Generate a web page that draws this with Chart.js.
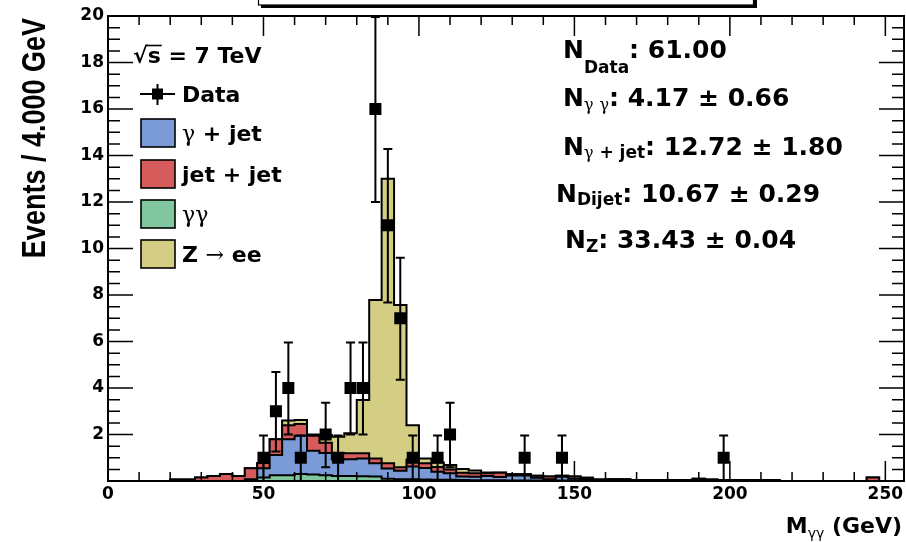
<!DOCTYPE html>
<html>
<head>
<meta charset="utf-8">
<script src="https://cdn.jsdelivr.net/npm/chart.js@4.4.0/dist/chart.umd.min.js"></script>
<style>
  html, body { margin: 0; padding: 0; background: #fff; }
  #wrap { width: 906px; height: 542px; }
</style>
</head>
<body>
<div id="wrap"><canvas id="c" width="906" height="542"></canvas></div>
<script>
// Diphoton invariant mass: stacked background templates and observed events, 4 GeV bins from 0 to 256 GeV
const binWidth = 4;
const binCount = 64;

// Per-bin contents, bin i covers [4i, 4i+4) GeV
const gammaGamma = [
  0, 0, 0, 0, 0, 0, 0, 0, 0, 0, 0, 0.02, 0.15, 0.25, 0.25, 0.30,
  0.28, 0.25, 0.22, 0.22, 0.20, 0.19, 0.10, 0.08, 0.08, 0.06, 0.05, 0.05, 0.04, 0.03, 0.03, 0.03,
  0.02, 0.02, 0.02, 0.02, 0.02, 0.02, 0.01, 0, 0, 0, 0, 0, 0, 0, 0, 0,
  0, 0, 0, 0, 0, 0, 0, 0, 0, 0, 0, 0, 0, 0, 0, 0
];
const gammaJet = [
  0, 0, 0, 0, 0, 0, 0, 0, 0, 0, 0, 0.05, 0.40, 0.87, 1.55, 1.65,
  1.02, 0.95, 0.70, 0.72, 0.77, 0.57, 0.44, 0.36, 0.54, 0.50, 0.35, 0.28, 0.15, 0.15, 0.18, 0.14,
  0.22, 0.22, 0.12, 0.06, 0.16, 0.08, 0.06, 0.03, 0.04, 0.04, 0.02, 0.02, 0.02, 0.02, 0.02, 0.05,
  0.03, 0.02, 0.02, 0.02, 0.02, 0.02, 0, 0, 0, 0, 0, 0, 0, 0, 0, 0
];
const jetJet = [
  0, 0, 0, 0, 0, 0.06, 0.06, 0.15, 0.22, 0.30, 0.22, 0.48, 0.22, 0.68, 0.60, 0.50,
  0.65, 0.45, 0.28, 0.25, 0.22, 0.21, 0.22, 0.15, 0.31, 0.20, 0.20, 0.17, 0.17, 0.15, 0.12, 0.18,
  0.05, 0.05, 0.09, 0.11, 0.05, 0.09, 0.07, 0.03, 0.03, 0.03, 0.02, 0.02, 0.02, 0.02, 0.02, 0.05,
  0.03, 0.02, 0.02, 0.02, 0.02, 0.02, 0, 0, 0, 0, 0, 0, 0, 0.15, 0, 0
];
const zee = [
  0, 0, 0, 0, 0, 0, 0, 0, 0, 0, 0, 0, 0, 0, 0.20, 0.17,
  0.05, 0.33, 0.70, 0.86, 2.29, 6.81, 12.24, 6.98, 1.47, 0.21, 0.20, 0.19, 0.16, 0.12, 0.04, 0.02,
  0, 0, 0, 0, 0, 0, 0, 0, 0, 0, 0, 0, 0, 0, 0, 0,
  0, 0, 0, 0, 0, 0, 0, 0, 0, 0, 0, 0, 0, 0, 0, 0
];

// Observed events: bin centre (GeV), count, statistical error
const dataMass  = [50, 54, 58, 62, 70, 74, 78, 82, 86, 90, 94, 98, 106, 110, 134, 146, 198];
const dataCount = [1, 3, 4, 1, 2, 1, 4, 4, 16, 11, 7, 1, 1, 2, 1, 1, 1];
const dataErr   = [1, 1.73, 2, 1, 1.41, 1, 2, 2, 4, 3.32, 2.65, 1, 1, 1.41, 1, 1, 1];

// Axis labels
const xTickValues = [0, 50, 100, 150, 200, 250];
const yTickValues = [2, 4, 6, 8, 10, 12, 14, 16, 18, 20];

// Legend names (stack order, bottom to top) and yield summary
const seriesNames = ['γγ', 'γ + jet', 'jet + jet', 'Z → ee'];
const yieldSubs   = ['Data', 'γ γ', 'γ + jet', 'Dijet', 'Z'];
const yieldValues = ['61.00', '4.17 ± 0.66', '12.72 ± 1.80', '10.67 ± 0.29', '33.43 ± 0.04'];

const COL_GG = '#80c69e';
const COL_GJ = '#7a9bd8';
const COL_JJ = '#d65c5c';
const COL_Z  = '#d4ce84';

const binEdges = Array.from({ length: binCount + 1 }, (_, i) => i * binWidth);

function stepPoints(values) {
  return binEdges.map((e, i) => ({ x: e, y: values[Math.min(i, values.length - 1)] }));
}
function histo(label, values, color, fill) {
  return {
    type: 'line', label, data: stepPoints(values), stepped: 'before', stack: 'mc',
    backgroundColor: color, borderColor: '#000', borderWidth: 2,
    pointRadius: 0, pointHoverRadius: 0, fill, tension: 0
  };
}

const FONT = '"DejaVu Sans"';

function drawRuns(ctx, x, y, runs) {
  let cx = x;
  for (const r of runs) {
    ctx.font = r.font;
    ctx.fillText(r.t, cx, y + (r.dy || 0));
    cx += ctx.measureText(r.t).width;
  }
  return cx;
}
function runsWidth(ctx, runs) {
  let w = 0;
  for (const r of runs) { ctx.font = r.font; w += ctx.measureText(r.t).width; }
  return w;
}
// Greek letters and arrows in a lighter symbol-like face
function labelRuns(text, bold, sym) {
  const runs = [];
  for (const ch of text) {
    const f = (ch === 'γ' || ch === '→') ? sym : bold;
    if (runs.length && runs[runs.length - 1].font === f) runs[runs.length - 1].t += ch;
    else runs.push({ t: ch, font: f });
  }
  return runs;
}

const frameAndTicks = {
  id: 'frameAndTicks',
  afterDraw(chart) {
    const { ctx, chartArea: a, scales: { x, y } } = chart;
    ctx.save();
    ctx.strokeStyle = '#000';
    ctx.lineWidth = 1.5;
    ctx.beginPath();
    for (let v = 0; v <= 250; v += 10) {
      const px = x.getPixelForValue(v);
      const len = v % 50 === 0 ? 20 : 9;
      ctx.moveTo(px, a.bottom); ctx.lineTo(px, a.bottom - len);
      ctx.moveTo(px, a.top); ctx.lineTo(px, a.top + len);
    }
    for (let k = 0; k <= 40; k++) {
      const py = y.getPixelForValue(k * 0.5);
      const len = k % 4 === 0 ? 25 : 12;
      ctx.moveTo(a.left, py); ctx.lineTo(a.left + len, py);
      ctx.moveTo(a.right, py); ctx.lineTo(a.right - len, py);
    }
    ctx.stroke();
    ctx.lineWidth = 2;
    ctx.strokeRect(a.left, a.top, a.right - a.left, a.bottom - a.top);
    ctx.restore();
  }
};

const errorBars = {
  id: 'errorBars',
  afterDatasetsDraw(chart) {
    const { ctx, chartArea: a, scales: { x, y } } = chart;
    ctx.save();
    ctx.beginPath();
    ctx.rect(a.left, a.top - 1, a.right - a.left, a.bottom - a.top + 2);
    ctx.clip();
    ctx.strokeStyle = '#000';
    ctx.lineWidth = 2;
    dataMass.forEach((m, i) => {
      const px = x.getPixelForValue(m);
      const lo = y.getPixelForValue(dataCount[i] - dataErr[i]);
      const hi = y.getPixelForValue(dataCount[i] + dataErr[i]);
      ctx.beginPath();
      ctx.moveTo(px, lo); ctx.lineTo(px, hi);
      ctx.moveTo(px - 4.5, lo); ctx.lineTo(px + 4.5, lo);
      ctx.moveTo(px - 4.5, hi + 1); ctx.lineTo(px + 4.5, hi + 1);
      ctx.stroke();
    });
    ctx.restore();
  }
};

const annotations = {
  id: 'annotations',
  afterDraw(chart) {
    const { ctx } = chart;
    ctx.save();
    ctx.fillStyle = '#000';
    ctx.strokeStyle = '#000';
    ctx.textBaseline = 'alphabetic';
    ctx.textAlign = 'left';

    // title box peeking in at the top edge
    ctx.lineWidth = 1.2;
    ctx.strokeRect(258.5, -20, 495, 25);
    ctx.fillRect(261, 5, 496, 3);
    ctx.fillRect(754, -5, 3, 13);

    // y-axis title
    ctx.save();
    ctx.translate(45, 18);
    ctx.scale(1.22, 1);
    ctx.rotate(-Math.PI / 2);
    ctx.textAlign = 'right';
    ctx.font = 'bold 27px "Liberation Sans"';
    ctx.fillText('Events / 4.000 GeV', 0, 0);
    ctx.restore();

    // x-axis title
    const xt = [
      { t: 'M', font: 'bold 22px ' + FONT },
      { t: 'γγ', font: '14px ' + FONT, dy: 5 },
      { t: ' (GeV)', font: 'bold 22px ' + FONT }
    ];
    drawRuns(ctx, 902 - runsWidth(ctx, xt), 533, xt);

    // legend
    const bold22 = 'bold 22px ' + FONT;
    const sym22 = '22px "DejaVu Serif"';
    const xs = drawRuns(ctx, 133, 63, [{ t: '√', font: bold22 }]);
    const xe = drawRuns(ctx, xs, 63, [{ t: 's', font: bold22 }]);
    drawRuns(ctx, xe, 63, [{ t: ' = 7 TeV', font: bold22 }]);
    ctx.lineWidth = 1.6;
    ctx.beginPath(); ctx.moveTo(xs - 1, 45.5); ctx.lineTo(xe + 1, 45.5); ctx.stroke();

    // data entry: marker with error cross
    ctx.lineWidth = 2;
    ctx.beginPath();
    ctx.moveTo(140, 94); ctx.lineTo(175, 94);
    ctx.moveTo(157.5, 84); ctx.lineTo(157.5, 105);
    ctx.stroke();
    ctx.fillRect(152, 88.5, 11, 11);
    drawRuns(ctx, 182, 102, [{ t: 'Data', font: bold22 }]);

    const entries = [
      { name: seriesNames[1], color: COL_GJ, y: 133 },
      { name: seriesNames[2], color: COL_JJ, y: 174 },
      { name: seriesNames[0], color: COL_GG, y: 214 },
      { name: seriesNames[3], color: COL_Z,  y: 254 }
    ];
    ctx.lineWidth = 1.6;
    for (const e of entries) {
      ctx.fillStyle = e.color;
      ctx.fillRect(141, e.y - 14, 34, 28);
      ctx.strokeRect(141, e.y - 14, 34, 28);
      ctx.fillStyle = '#000';
      drawRuns(ctx, 182, e.y + 8, labelRuns(e.name, bold22, sym22));
    }

    // yield summary
    const bold24 = 'bold 25px ' + FONT;
    const sub17 = 'bold 17px ' + FONT;
    const subSym = '16px "DejaVu Serif"';
    const lineX = [563, 563, 563, 556, 565];
    const lineY = [58, 106, 155, 202, 248];
    const subDy = [15, 4, 3, 3, 4];
    yieldSubs.forEach((s, i) => {
      const runs = [{ t: 'N', font: bold24 }];
      for (const r of labelRuns(s, sub17, subSym)) runs.push({ t: r.t, font: r.font, dy: subDy[i] });
      runs.push({ t: ': ' + yieldValues[i], font: bold24 });
      drawRuns(ctx, lineX[i], lineY[i], runs);
    });
    ctx.restore();
  }
};

Chart.defaults.font.family = FONT;

new Chart(document.getElementById('c'), {
  type: 'line',
  data: {
    datasets: [
      {
        type: 'line', label: 'Data',
        data: dataMass.map((m, i) => ({ x: m, y: dataCount[i] })),
        showLine: false, pointStyle: 'rect', pointRadius: 8.5, pointHoverRadius: 8.5,
        pointBackgroundColor: '#000', pointBorderColor: '#000', pointBorderWidth: 0,
        stack: 'data'
      },
      histo(seriesNames[0], gammaGamma, COL_GG, 'origin'),
      histo(seriesNames[1], gammaJet, COL_GJ, 1),
      histo(seriesNames[2], jetJet, COL_JJ, 2),
      histo(seriesNames[3], zee, COL_Z, 3)
    ]
  },
  options: {
    responsive: false,
    animation: false,
    events: [],
    layout: { autoPadding: false, padding: { left: 0, top: 16, right: 2, bottom: 0 } },
    plugins: {
      legend: { display: false },
      tooltip: { enabled: false },
      filler: { propagate: false }
    },
    scales: {
      x: {
        type: 'linear', min: 0, max: binCount * binWidth,
        grid: { display: false, drawTicks: false }, border: { display: false },
        afterBuildTicks: s => { s.ticks = xTickValues.map(v => ({ value: v })); },
        afterFit: s => { s.height = 61; s.paddingLeft = 0; s.paddingRight = 0; },
        ticks: {
          color: '#000', padding: 3, maxRotation: 0, autoSkip: false,
          font: { family: FONT, size: 17, weight: 'bold' }
        }
      },
      y: {
        type: 'linear', min: 0, max: 20, stacked: true,
        grid: { display: false, drawTicks: false }, border: { display: false },
        afterBuildTicks: s => { s.ticks = yTickValues.map(v => ({ value: v })); },
        afterFit: s => { s.width = 108; s.paddingTop = 0; s.paddingBottom = 0; },
        ticks: {
          color: '#000', padding: 4,
          font: { family: FONT, size: 17, weight: 'bold' }
        }
      }
    }
  },
  plugins: [errorBars, frameAndTicks, annotations]
});
</script>
</body>
</html>
